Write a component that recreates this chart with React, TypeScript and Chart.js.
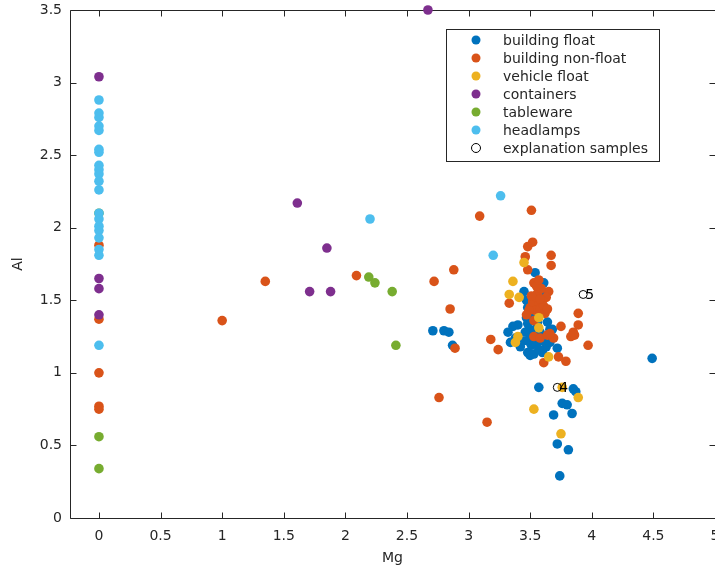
import React, { useEffect, useRef } from 'react';
import { Chart, registerables } from 'chart.js';

Chart.register(...registerables);

// ---------- data ----------
const seriesNames = ['building float', 'building non-float', 'vehicle float', 'containers', 'tableware', 'headlamps'];
const seriesColors = ['#0072BD', '#D95319', '#EDB120', '#7E2F8E', '#77AC30', '#4DBEEE'];

// [Mg, Al]
const buildingFloat: number[][] = [
  [2.71, 1.29], [2.80, 1.29], [2.84, 1.28], [2.87, 1.19],
  [3.32, 1.28], [3.34, 1.21], [3.38, 1.24], [3.40, 1.33], [3.36, 1.32], [3.42, 1.18],
  [3.45, 1.56], [3.47, 1.50], [3.48, 1.45], [3.47, 1.38], [3.48, 1.34], [3.49, 1.30], [3.50, 1.26],
  [3.48, 1.22], [3.51, 1.19], [3.48, 1.14], [3.50, 1.12], [3.53, 1.13], [3.46, 1.28], [3.52, 1.38], [3.50, 1.42],
  [3.54, 1.69], [3.61, 1.62], [3.59, 1.55], [3.55, 1.40], [3.56, 1.35], [3.58, 1.28], [3.60, 1.22],
  [3.60, 1.14], [3.62, 1.25], [3.64, 1.35], [3.66, 1.30], [3.68, 1.30], [3.63, 1.18], [3.66, 1.21],
  [3.72, 1.17], [3.55, 1.20], [3.57, 1.16], [3.54, 1.30], [3.44, 1.22],
  [3.57, 0.90], [3.85, 0.89], [3.87, 0.87], [3.76, 0.79], [3.80, 0.78], [3.69, 0.71], [3.84, 0.72],
  [3.72, 0.51], [3.81, 0.47], [3.74, 0.29], [4.49, 1.10],
];
const buildingNonFloat: number[][] = [
  [0, 1.88], [0, 1.37], [0, 1.00], [0, 0.77], [0, 0.75],
  [1.00, 1.36], [1.35, 1.63], [2.09, 1.67], [2.72, 1.63], [2.76, 0.83], [2.85, 1.44], [2.88, 1.71],
  [2.89, 1.17], [3.09, 2.08], [3.15, 0.66], [3.18, 1.23], [3.24, 1.16], [3.33, 1.48],
  [3.51, 2.12], [3.52, 1.90], [3.48, 1.87], [3.46, 1.80], [3.48, 1.71], [3.53, 1.62], [3.67, 1.81],
  [3.67, 1.74], [3.65, 1.56], [3.63, 1.52],
  [3.50, 1.45], [3.52, 1.49], [3.55, 1.52], [3.57, 1.47], [3.54, 1.43], [3.58, 1.44], [3.60, 1.50],
  [3.61, 1.46], [3.56, 1.55], [3.59, 1.58], [3.49, 1.43], [3.47, 1.40], [3.53, 1.36], [3.62, 1.41],
  [3.64, 1.44], [3.55, 1.60], [3.57, 1.64], [3.51, 1.53], [3.58, 1.51],
  [3.89, 1.41], [3.89, 1.33], [3.85, 1.28], [3.83, 1.25], [3.97, 1.19], [3.75, 1.32],
  [3.53, 1.25], [3.58, 1.24], [3.64, 1.26], [3.69, 1.24], [3.86, 1.26], [3.73, 1.11], [3.79, 1.08],
  [3.61, 1.07], [3.66, 1.27],
];
const vehicleFloat: number[][] = [
  [3.45, 1.76], [3.36, 1.63], [3.33, 1.54], [3.41, 1.52], [3.40, 1.25], [3.38, 1.21], [3.57, 1.38],
  [3.57, 1.31], [3.65, 1.11], [3.76, 0.90], [3.89, 0.83], [3.53, 0.75], [3.75, 0.58],
];
const containers: number[][] = [
  [0, 3.04], [0, 1.65], [0, 1.58], [0, 1.40],
  [1.61, 2.17], [1.71, 1.56], [1.88, 1.56], [1.85, 1.86], [2.67, 3.50],
];
const tableware: number[][] = [
  [0, 2.10], [0, 0.56], [0, 0.34], [2.19, 1.66], [2.24, 1.62], [2.38, 1.56], [2.41, 1.19],
];
const headlamps: number[][] = [
  [0, 2.88], [0, 2.79], [0, 2.76], [0, 2.70], [0, 2.67], [0, 2.54], [0, 2.52], [0, 2.43], [0, 2.40],
  [0, 2.37], [0, 2.32], [0, 2.26], [0, 2.10], [0, 2.06], [0, 2.01], [0, 1.98], [0, 1.93], [0, 1.85],
  [0, 1.81], [0, 1.19], [2.20, 2.06], [3.26, 2.22], [3.20, 1.81],
];
const explanationSamples: number[][] = [[3.72, 0.90], [3.93, 1.54]];
const explanationLabels = ['4', '5'];

const xTickValues = [0, 0.5, 1, 1.5, 2, 2.5, 3, 3.5, 4, 4.5, 5];
const yTickValues = [0, 0.5, 1, 1.5, 2, 2.5, 3, 3.5];
const xLabel = 'Mg';
const yLabel = 'Al';
const explanationName = 'explanation samples';

const AXIS_COLOR = '#262626';
const FONT = "'DejaVu Sans', sans-serif";

const allSeries = [buildingFloat, buildingNonFloat, vehicleFloat, containers, tableware, headlamps];

const matlabPlugin = {
  id: 'matlabDecor',
  beforeDatasetsDraw(chart: any) {
    const { ctx, chartArea: a, scales } = chart;
    const xs = scales.x, ys = scales.y;
    const L = Math.round(a.left) + 0.5, B = Math.round(a.bottom) + 0.5;
    const T = Math.round(a.top) + 0.5, R = Math.round(a.right) + 0.5;
    ctx.save();
    ctx.strokeStyle = AXIS_COLOR;
    ctx.lineWidth = 1;
    ctx.beginPath();
    ctx.moveTo(R, T); ctx.lineTo(L, T); ctx.lineTo(L, B); ctx.lineTo(R, B); ctx.lineTo(R, T);
    const tl = 6;
    xTickValues.forEach((v) => {
      const px = Math.round(xs.getPixelForValue(v)) + 0.5;
      ctx.moveTo(px, B); ctx.lineTo(px, B - tl);
      ctx.moveTo(px, T); ctx.lineTo(px, T + tl);
    });
    yTickValues.forEach((v) => {
      const py = Math.round(ys.getPixelForValue(v)) + 0.5;
      ctx.moveTo(L, py); ctx.lineTo(L + tl, py);
      ctx.moveTo(R, py); ctx.lineTo(R - tl, py);
    });
    ctx.stroke();
    ctx.restore();
  },
  afterDatasetsDraw(chart: any) {
    const { ctx, scales } = chart;
    const xs = scales.x, ys = scales.y;
    ctx.save();
    // explanation labels
    ctx.font = `14px ${FONT}`;
    ctx.fillStyle = '#000';
    ctx.textAlign = 'left';
    ctx.textBaseline = 'middle';
    explanationSamples.forEach((p, i) => {
      const px = xs.getPixelForValue(p[0]);
      const py = ys.getPixelForValue(p[1]);
      ctx.fillText(explanationLabels[i], px + 2, py + 1);
    });
    // legend
    const bx = 446.5, by = 29.5, bw = 213, bh = 132;
    ctx.fillStyle = '#fff';
    ctx.fillRect(bx, by, bw, bh);
    ctx.strokeStyle = AXIS_COLOR;
    ctx.lineWidth = 1;
    ctx.strokeRect(bx, by, bw, bh);
    const names = [...seriesNames, explanationName];
    names.forEach((name, i) => {
      const cy = 40 + i * 18;
      ctx.beginPath();
      ctx.arc(476, cy, 4.5, 0, Math.PI * 2);
      if (i < seriesColors.length) {
        ctx.fillStyle = seriesColors[i];
        ctx.fill();
      } else {
        ctx.strokeStyle = '#000';
        ctx.lineWidth = 1;
        ctx.stroke();
      }
      ctx.fillStyle = AXIS_COLOR;
      ctx.font = `14px ${FONT}`;
      ctx.textAlign = 'left';
      ctx.textBaseline = 'middle';
      ctx.fillText(name, 503, cy + 1);
    });
    ctx.restore();
  },
};

export default function App() {
  const ref = useRef<HTMLCanvasElement | null>(null);
  useEffect(() => {
    if (!ref.current) return;
    const datasets: any[] = allSeries.map((s, i) => ({
      label: seriesNames[i],
      data: s.map((p) => ({ x: p[0], y: p[1] })),
      backgroundColor: seriesColors[i],
      borderColor: seriesColors[i],
      borderWidth: 0,
      pointRadius: 4.8,
      pointHoverRadius: 4.8,
      order: 10 - i,
      clip: false,
    }));
    datasets.push({
      label: explanationName,
      data: explanationSamples.map((p) => ({ x: p[0], y: p[1] })),
      backgroundColor: 'rgba(0,0,0,0)',
      borderColor: '#000',
      borderWidth: 1,
      pointRadius: 4,
      order: 0,
      clip: false,
    });
    const chart = new Chart(ref.current, {
      type: 'scatter',
      data: { datasets },
      plugins: [matlabPlugin],
      options: {
        animation: false,
        responsive: false,
        events: [],
        layout: { autoPadding: false, padding: { top: 10, right: 0, left: 0, bottom: 0 } },
        plugins: { legend: { display: false }, tooltip: { enabled: false } },
        scales: {
          x: {
            type: 'linear',
            min: -0.235,
            max: 5,
            afterBuildTicks: (s: any) => { s.ticks = xTickValues.map((v) => ({ value: v })); },
            afterFit: (s: any) => { s.height = 56; s.paddingLeft = 0; s.paddingRight = 0; },
            grid: { display: false, drawTicks: false },
            border: { display: false },
            ticks: {
              padding: 10,
              color: AXIS_COLOR,
              font: { family: FONT, size: 14 },
              maxRotation: 0,
              autoSkip: false,
              callback: (v: any) => String(v),
            },
            title: {
              display: true,
              text: xLabel,
              color: AXIS_COLOR,
              font: { family: FONT, size: 14 },
              padding: { top: 0, bottom: 7 },
            },
          },
          y: {
            type: 'linear',
            min: 0,
            max: 3.5,
            afterBuildTicks: (s: any) => { s.ticks = yTickValues.map((v) => ({ value: v })); },
            afterFit: (s: any) => { s.width = 70; s.paddingTop = 0; s.paddingBottom = 0; },
            grid: { display: false, drawTicks: false },
            border: { display: false },
            ticks: {
              padding: 8,
              color: AXIS_COLOR,
              font: { family: FONT, size: 14 },
              autoSkip: false,
              callback: (v: any) => String(v),
            },
            title: {
              display: true,
              text: yLabel,
              color: AXIS_COLOR,
              font: { family: FONT, size: 14 },
              padding: { top: 10, bottom: 0 },
            },
          },
        },
      },
    });
    return () => chart.destroy();
  }, []);
  return (
    <div style={{ position: 'fixed', left: 0, top: 0, width: 715, height: 574, background: '#fff' }}>
      <canvas ref={ref} width={715} height={574} style={{ display: 'block' }} />
    </div>
  );
}
